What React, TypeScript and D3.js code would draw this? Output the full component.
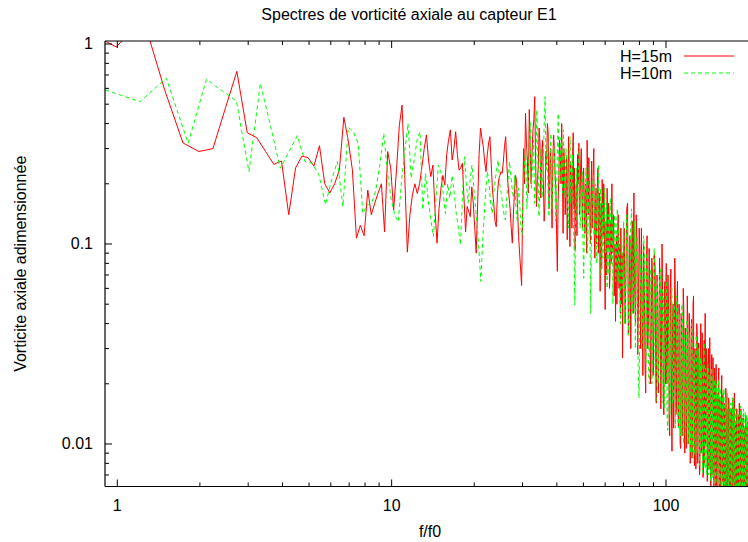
import React from "react";
import * as d3 from "d3";

const TITLE = "Spectres de vorticité axiale au capteur E1";
const X_LABEL = "f/f0";
const Y_LABEL = "Vorticite axiale adimensionnée";
const SERIES_NAMES = ["H=15m", "H=10m"];
const X_TICKS = [1, 10, 100];
const X_TICK_LABELS = ["1", "10", "100"];
const Y_TICKS = [1, 0.1, 0.01];
const Y_TICK_LABELS = ["1", "0.1", "0.01"];

// H=15m : spectral bins of width RED_DF (f/f0), bin index k
const RED_DF = 0.248;
const RED_LOW_K0 = 3; // every bin, k = 3..120
const RED_LOW = [
  1.19, 0.966, 1.36, 0.59, 0.32, 0.29, 0.30, 0.48, 0.73, 0.36,
  0.34, 0.29, 0.25, 0.26, 0.14, 0.24, 0.275, 0.27, 0.245, 0.31,
  0.20, 0.18, 0.20, 0.235, 0.43, 0.33, 0.235, 0.107, 0.124, 0.11,
  0.186, 0.14, 0.16, 0.18, 0.20, 0.115, 0.29, 0.24, 0.148, 0.235,
  0.39, 0.495, 0.22, 0.091, 0.14, 0.176, 0.20, 0.179, 0.201, 0.244,
  0.30, 0.351, 0.26, 0.217, 0.248, 0.15, 0.101, 0.15, 0.19, 0.22,
  0.197, 0.28, 0.33, 0.372, 0.263, 0.30, 0.364, 0.28, 0.234, 0.24,
  0.253, 0.17, 0.115, 0.154, 0.145, 0.137, 0.193, 0.16, 0.12, 0.090,
  0.16, 0.28, 0.379, 0.34, 0.307, 0.26, 0.230, 0.28, 0.32, 0.344,
  0.25, 0.186, 0.16, 0.13, 0.122, 0.18, 0.209, 0.22, 0.23, 0.226,
  0.26, 0.31, 0.344, 0.25, 0.20, 0.172, 0.15, 0.12, 0.101, 0.14,
  0.18, 0.22, 0.21, 0.15, 0.11, 0.09, 0.075, 0.062,
];
const RED_MID_K0 = 122; // every bin, k = 122..282
const RED_MID = [
  0.30, 0.2, 0.45, 0.32, 0.26, 0.18, 0.47, 0.3, 0.20, 0.28, 0.37, 0.42, 0.545, 0.25, 0.154, 0.21, 0.24, 0.38, 0.32, 0.17,
  0.27, 0.33, 0.21, 0.13, 0.16, 0.29, 0.25, 0.4, 0.36, 0.15, 0.226, 0.3, 0.18, 0.12, 0.27, 0.35, 0.30, 0.22, 0.19, 0.11,
  0.073, 0.16, 0.22, 0.33, 0.28, 0.2, 0.40, 0.24, 0.113, 0.3, 0.25, 0.14, 0.19, 0.27, 0.105, 0.22, 0.344, 0.18, 0.097, 0.26,
  0.21, 0.12, 0.26, 0.36, 0.15, 0.24, 0.093, 0.17, 0.20, 0.11, 0.28, 0.2, 0.319, 0.14, 0.16, 0.25, 0.30, 0.18, 0.12, 0.22,
  0.24, 0.16, 0.113, 0.2, 0.19, 0.09, 0.33, 0.22, 0.14, 0.27, 0.21, 0.13, 0.10, 0.18, 0.26, 0.12, 0.17, 0.24, 0.30, 0.11,
  0.085, 0.15, 0.19, 0.1, 0.14, 0.22, 0.24, 0.09, 0.12, 0.18, 0.058, 0.13, 0.16, 0.075, 0.21, 0.15, 0.11, 0.2, 0.17, 0.08,
  0.047, 0.11, 0.13, 0.07, 0.19, 0.12, 0.095, 0.16, 0.15, 0.06, 0.07, 0.13, 0.12, 0.08, 0.20, 0.1, 0.09, 0.14, 0.13, 0.055,
  0.065, 0.1, 0.041, 0.08, 0.11, 0.05, 0.075, 0.12, 0.14, 0.07, 0.06, 0.1, 0.095, 0.045, 0.12, 0.08, 0.05, 0.09, 0.027, 0.06,
  0.085,
];
const RED_HIGH_K0 = 284; // every 2nd bin, k = 284..804
const RED_HIGH = [
  0.12, 0.04, 0.07, 0.15, 0.16, 0.035, 0.06, 0.11, 0.03, 0.09, 0.13, 0.045, 0.18, 0.06, 0.04, 0.14, 0.10, 0.028, 0.05, 0.12,
  0.09, 0.03, 0.12, 0.05, 0.022, 0.1, 0.07, 0.025, 0.018, 0.08, 0.11, 0.03, 0.04, 0.095, 0.06, 0.02, 0.028, 0.085, 0.07, 0.022,
  0.035, 0.09, 0.075, 0.02, 0.016, 0.07, 0.055, 0.018, 0.03, 0.085, 0.06, 0.015, 0.025, 0.1, 0.05, 0.017, 0.014, 0.06, 0.065, 0.02,
  0.08, 0.02, 0.03, 0.07, 0.045, 0.013, 0.011, 0.06, 0.075, 0.016, 0.0092, 0.04, 0.05, 0.012, 0.02, 0.085, 0.055, 0.014, 0.015, 0.05,
  0.065, 0.015, 0.012, 0.05, 0.04, 0.01, 0.0095, 0.045, 0.035, 0.011, 0.016, 0.06, 0.048, 0.012, 0.009, 0.038, 0.03, 0.0095, 0.014, 0.055,
  0.04, 0.01, 0.012, 0.045, 0.03, 0.008, 0.009, 0.038, 0.042, 0.0085, 0.014, 0.05, 0.055, 0.011, 0.0078, 0.03, 0.028, 0.0075, 0.0117, 0.04,
  0.035, 0.008, 0.012, 0.032, 0.026, 0.007, 0.0075, 0.03, 0.04, 0.009, 0.01, 0.036, 0.025, 0.0068, 0.0072, 0.028, 0.033, 0.008, 0.045, 0.01,
  0.011, 0.03, 0.022, 0.0065, 0.008, 0.026, 0.03, 0.0075, 0.009, 0.034, 0.02, 0.0062, 0.0058, 0.022, 0.028, 0.007, 0.0085, 0.027, 0.018, 0.006,
  0.0075, 0.024, 0.02, 0.0058, 0.01, 0.025, 0.0062, 0.018, 0.017, 0.0055, 0.008, 0.021, 0.024, 0.0065, 0.0052, 0.017, 0.014, 0.005, 0.0075, 0.02,
  0.022, 0.0075, 0.0065, 0.018, 0.015, 0.005, 0.0048, 0.016, 0.012, 0.0046, 0.0078, 0.019, 0.017, 0.0058, 0.0045, 0.015, 0.013, 0.0044, 0.007, 0.017,
  0.016, 0.005, 0.0058, 0.015, 0.012, 0.0045, 0.0042, 0.013, 0.015, 0.0055, 0.007, 0.017, 0.011, 0.0042, 0.005, 0.015, 0.018, 0.0058, 0.0068, 0.013,
  0.013, 0.0045, 0.0055, 0.015, 0.0095, 0.0042, 0.004, 0.012, 0.014, 0.005, 0.0066, 0.016, 0.012, 0.0044, 0.005, 0.013, 0.015, 0.0055, 0.0078, 0.0135,
  0.012, 0.0042, 0.005, 0.013, 0.0135, 0.0046, 0.0044, 0.012, 0.0095, 0.004, 0.0062, 0.014, 0.0135, 0.005, 0.0054, 0.0125, 0.011, 0.0042, 0.006, 0.013, 0.012,
];

// H=10m : spectral bins of width GREEN_DF (f/f0)
const GREEN_DF = 0.302;
const GREEN_LOW_K0 = 3; // every bin, k = 3..100
const GREEN_LOW = [
  0.589, 0.515, 0.674, 0.319, 0.666, 0.582, 0.519, 0.23, 0.636, 0.386,
  0.239, 0.29, 0.348, 0.258, 0.253, 0.221, 0.157, 0.209, 0.258, 0.154,
  0.383, 0.364, 0.319, 0.142, 0.157, 0.16, 0.186, 0.25, 0.358, 0.225,
  0.166, 0.14, 0.129, 0.209, 0.295, 0.401, 0.213, 0.263, 0.331, 0.364,
  0.148, 0.225, 0.166, 0.132, 0.109, 0.166, 0.248, 0.23, 0.18, 0.142,
  0.2, 0.17, 0.22, 0.18, 0.14, 0.12, 0.099, 0.17, 0.273, 0.2,
  0.16, 0.21, 0.248, 0.19, 0.15, 0.12, 0.09, 0.065, 0.10, 0.14,
  0.19, 0.23, 0.2, 0.16, 0.142, 0.18, 0.21, 0.24, 0.263, 0.2,
  0.18, 0.16, 0.14, 0.132, 0.17, 0.21, 0.258, 0.22, 0.19, 0.17,
  0.22, 0.15, 0.13, 0.19, 0.16, 0.12, 0.111, 0.2,
];
const GREEN_MID_K0 = 102; // every bin, k = 102..230
const GREEN_MID = [
  0.307, 0.15, 0.20, 0.28, 0.409, 0.19, 0.25, 0.33, 0.16, 0.24, 0.468, 0.26, 0.137, 0.2, 0.30, 0.17, 0.22, 0.38, 0.545, 0.23,
  0.30, 0.19, 0.137, 0.25, 0.357, 0.15, 0.20, 0.31, 0.29, 0.13, 0.16, 0.28, 0.45, 0.2, 0.21, 0.34, 0.30, 0.18, 0.372, 0.22,
  0.17, 0.3, 0.26, 0.15, 0.12, 0.23, 0.344, 0.16, 0.22, 0.28, 0.15, 0.1, 0.0495, 0.14, 0.24, 0.13, 0.18, 0.26, 0.307, 0.12,
  0.14, 0.21, 0.23, 0.1, 0.0674, 0.13, 0.17, 0.24, 0.21, 0.09, 0.11, 0.18, 0.253, 0.12, 0.045, 0.1, 0.15, 0.2, 0.22, 0.11,
  0.12, 0.2, 0.18, 0.08, 0.09, 0.17, 0.25, 0.11, 0.13, 0.19, 0.07, 0.12, 0.16, 0.085, 0.10, 0.15, 0.19, 0.09, 0.12, 0.16,
  0.06, 0.1, 0.14, 0.07, 0.09, 0.15, 0.17, 0.08, 0.11, 0.14, 0.05, 0.09, 0.10, 0.14, 0.13, 0.065, 0.075, 0.12, 0.15, 0.07,
  0.065, 0.12, 0.095, 0.055, 0.04, 0.08, 0.11, 0.06, 0.07,
];
const GREEN_HIGH_K0 = 232; // every 2nd bin, k = 232..660
const GREEN_HIGH = [
  0.13, 0.04, 0.05, 0.14, 0.1, 0.035, 0.04, 0.12, 0.15, 0.045, 0.06, 0.13, 0.03, 0.08, 0.11, 0.025, 0.017, 0.05, 0.09, 0.03,
  0.045, 0.11, 0.1, 0.03, 0.025, 0.09, 0.08, 0.022, 0.02, 0.075, 0.07, 0.02, 0.035, 0.085, 0.095, 0.025, 0.016, 0.06, 0.065, 0.02,
  0.03, 0.07, 0.075, 0.02, 0.016, 0.06, 0.055, 0.015, 0.025, 0.07, 0.065, 0.014, 0.0117, 0.035, 0.05, 0.014, 0.02, 0.055, 0.06, 0.016,
  0.016, 0.05, 0.045, 0.012, 0.02, 0.055, 0.05, 0.013, 0.012, 0.045, 0.038, 0.011, 0.018, 0.05, 0.045, 0.011, 0.01, 0.03, 0.035, 0.01,
  0.014, 0.042, 0.04, 0.01, 0.011, 0.036, 0.03, 0.009, 0.015, 0.04, 0.036, 0.0095, 0.0085, 0.028, 0.026, 0.0088, 0.012, 0.035, 0.033, 0.009,
  0.01, 0.03, 0.028, 0.0078, 0.013, 0.027, 0.009, 0.026, 0.025, 0.0072, 0.011, 0.029, 0.032, 0.008, 0.0075, 0.024, 0.021, 0.007, 0.0095, 0.025,
  0.025, 0.007, 0.0085, 0.022, 0.019, 0.0065, 0.01, 0.024, 0.0068, 0.019, 0.022, 0.006, 0.009, 0.021, 0.018, 0.0058, 0.0065, 0.02, 0.017, 0.0055,
  0.008, 0.021, 0.02, 0.0055, 0.0068, 0.019, 0.014, 0.0052, 0.0058, 0.017, 0.018, 0.005, 0.0078, 0.019, 0.015, 0.0048, 0.0055, 0.017, 0.013, 0.0048,
  0.0075, 0.018, 0.016, 0.0048, 0.0065, 0.015, 0.013, 0.0046, 0.005, 0.016, 0.014, 0.0045, 0.0072, 0.017, 0.012, 0.0043, 0.005, 0.014, 0.015, 0.0046,
  0.007, 0.015, 0.013, 0.0045, 0.006, 0.014, 0.011, 0.0042, 0.0048, 0.013, 0.014, 0.0044, 0.0068, 0.0155, 0.012, 0.0042, 0.0052, 0.014, 0.013, 0.0045,
  0.0065, 0.015, 0.012, 0.0042, 0.0055, 0.013, 0.0145, 0.0046, 0.006, 0.014, 0.011, 0.004, 0.005, 0.0135, 0.012,
];

type Seg = { k0: number; step: number; values: number[] };

function buildPoints(df: number, segs: Seg[]): [number, number][] {
  const pts: [number, number][] = [];
  segs.forEach((s) => {
    s.values.forEach((v, i) => {
      pts.push([(s.k0 + i * s.step) * df, v]);
    });
  });
  return pts;
}

const RED_POINTS = buildPoints(RED_DF, [
  { k0: RED_LOW_K0, step: 1, values: RED_LOW },
  { k0: RED_MID_K0, step: 1, values: RED_MID },
  { k0: RED_HIGH_K0, step: 2, values: RED_HIGH },
]);
const GREEN_POINTS = buildPoints(GREEN_DF, [
  { k0: GREEN_LOW_K0, step: 1, values: GREEN_LOW },
  { k0: GREEN_MID_K0, step: 1, values: GREEN_MID },
  { k0: GREEN_HIGH_K0, step: 2, values: GREEN_HIGH },
]);

const FONT = "'Liberation Sans', Arial, Helvetica, sans-serif";

export default function App() {
  const W = 748;
  const H = 542;
  const left = 105;
  const right = 748.6;
  const top = 41;
  const bottom = 486.5;

  const x = d3.scaleLog().domain([0.902, 200]).range([left, right]);
  const y = d3.scaleLog().domain([0.00613, 1.035]).range([bottom, top]);

  const line = d3
    .line<[number, number]>()
    .x((d) => x(d[0]))
    .y((d) => y(d[1]));

  const xMinor: number[] = [];
  [1, 10, 100].forEach((dec) => {
    for (let m = 2; m <= 9; m++) {
      const v = m * dec;
      if (v > 0.902 && v < 200) xMinor.push(v);
    }
  });
  const yMinor: number[] = [];
  [0.001, 0.01, 0.1].forEach((dec) => {
    for (let m = 2; m <= 9; m++) {
      const v = m * dec;
      if (v > 0.00613 && v < 1.035) yMinor.push(v);
    }
  });

  const MAJ = 7;
  const MIN = 4;

  return (
    <svg
      width={W}
      height={H}
      style={{ position: "absolute", left: 0, top: 0, display: "block", background: "#fff" }}
      fontFamily={FONT}
      fontSize={16}
    >
      <rect x={0} y={0} width={W} height={H} fill="#fff" />
      <defs>
        <clipPath id="plotclip">
          <rect x={left} y={top} width={right - left} height={bottom - top} />
        </clipPath>
      </defs>

      {/* data */}
      <g clipPath="url(#plotclip)" fill="none">
        <path d={line(RED_POINTS) || ""} stroke="#ff0000" strokeWidth={1} />
        <path
          d={line(GREEN_POINTS) || ""}
          stroke="#00ff00"
          strokeWidth={1}
          strokeDasharray="4 3"
        />
      </g>

      {/* border */}
      <g stroke="#000" strokeWidth={1.2} fill="none">
        <line x1={left} y1={top} x2={left} y2={bottom} />
        <line x1={left} y1={bottom} x2={right} y2={bottom} />
        <line x1={left} y1={top} x2={right} y2={top} />
      </g>

      {/* ticks */}
      <g stroke="#000" strokeWidth={1}>
        {X_TICKS.map((t) => (
          <g key={"xt" + t}>
            <line x1={x(t)} x2={x(t)} y1={bottom} y2={bottom - MAJ} />
            <line x1={x(t)} x2={x(t)} y1={top} y2={top + MAJ} />
          </g>
        ))}
        {xMinor.map((t) => (
          <g key={"xm" + t}>
            <line x1={x(t)} x2={x(t)} y1={bottom} y2={bottom - MIN} />
            <line x1={x(t)} x2={x(t)} y1={top} y2={top + MIN} />
          </g>
        ))}
        {Y_TICKS.map((t) => (
          <line key={"yt" + t} x1={left} x2={left + MAJ} y1={y(t)} y2={y(t)} />
        ))}
        {yMinor.map((t) => (
          <line key={"ym" + t} x1={left} x2={left + MIN} y1={y(t)} y2={y(t)} />
        ))}
      </g>

      {/* tick labels */}
      <g fill="#000">
        {X_TICKS.map((t, i) => (
          <text key={"xl" + t} x={x(t)} y={511} textAnchor="middle">
            {X_TICK_LABELS[i]}
          </text>
        ))}
        {Y_TICKS.map((t, i) => (
          <text key={"yl" + t} x={93} y={y(t) + 5.5} textAnchor="end">
            {Y_TICK_LABELS[i]}
          </text>
        ))}
      </g>

      {/* titles */}
      <text x={409} y={19.5} textAnchor="middle" fill="#000">
        {TITLE}
      </text>
      <text x={430} y={537} textAnchor="middle" fill="#000">
        {X_LABEL}
      </text>
      <text
        transform={`translate(26, ${(top + bottom) / 2}) rotate(-90)`}
        textAnchor="middle"
        fill="#000"
      >
        {Y_LABEL}
      </text>

      {/* legend */}
      <g>
        <text x={672} y={62} textAnchor="end" fill="#000">
          {SERIES_NAMES[0]}
        </text>
        <line x1={684} x2={734} y1={56} y2={56} stroke="#ff0000" strokeWidth={1} />
        <text x={672} y={78.5} textAnchor="end" fill="#000">
          {SERIES_NAMES[1]}
        </text>
        <line
          x1={684}
          x2={734}
          y1={73}
          y2={73}
          stroke="#00ff00"
          strokeWidth={1}
          strokeDasharray="4 3"
        />
      </g>
    </svg>
  );
}
